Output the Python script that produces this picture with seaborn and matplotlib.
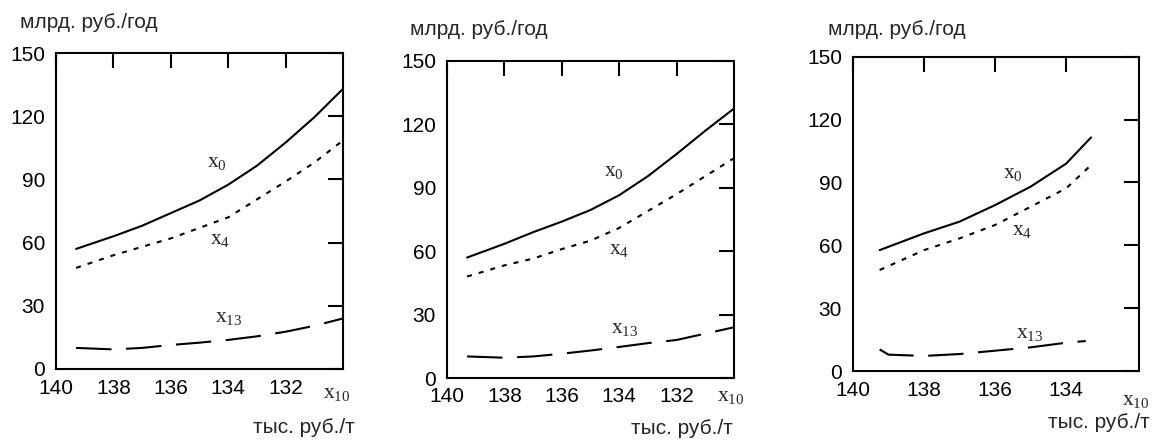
import matplotlib
matplotlib.use("Agg")
import matplotlib.pyplot as plt
from matplotlib import font_manager
import pandas as pd
import seaborn as sns

# values
x_p1 = [139.3, 138, 137, 136, 135, 134, 133, 132, 131, 130]
x0_p1 = [57, 63, 68, 74, 80, 87.5, 96.5, 107.5, 119.5, 133]
x4_p1 = [48, 54, 58, 62, 67, 72, 80.5, 89, 98, 108.5]
x13_p1 = [10, 9.3, 10, 11.4, 12.5, 13.8, 15.5, 17.7, 20.5, 24]

x_p2 = [139.3, 138, 137, 136, 135, 134, 133, 132, 131, 130]
x0_p2 = [57, 63.5, 69, 74, 79.5, 86.5, 95.5, 106, 117, 127.5]
x4_p2 = [48, 53.3, 56.5, 61, 65, 71, 79, 87, 95.5, 104]
x13_p2 = [10.2, 9.6, 10.2, 11.5, 13, 14.7, 16.5, 18, 21, 24]

x_p3 = [139.25, 138, 137, 136, 135, 134, 133.3]
x0_p3 = [57.7, 65.7, 71.3, 79.2, 88, 99, 111.5]
x4_p3 = [48.2, 57.7, 63.3, 69.7, 78.4, 87.2, 98.3]
x13x_p3 = [139.25, 139.0, 138, 137, 136, 135, 134, 133.45]
x13_p3 = [10.3, 7.8, 7.2, 8.1, 9.7, 11.3, 13.5, 14.3]

y_ticks = [0, 30, 60, 90, 120, 150]
ylabel_text = "млрд. руб./год"
xlabel_text = "тыс. руб./т"


def make_df(xa, y0, y4, x13x, y13):
    rows = []
    for x, y in zip(xa, y0):
        rows.append(("x0", x, y))
    for x, y in zip(xa, y4):
        rows.append(("x4", x, y))
    for x, y in zip(x13x, y13):
        rows.append(("x13", x, y))
    return pd.DataFrame(rows, columns=["curve", "price", "value"])


panels = [
    dict(df=make_df(x_p1, x0_p1, x4_p1, x_p1, x13_p1),
         pos=[0.0486, 0.1614, 0.2489, 0.7181], xlim=(140, 130),
         xticks=[140, 138, 136, 134, 132], pad=7,
         lab=[(134.4, 98.7), (134.3, 62), (134.0, 24.7)],
         ylab=(-0.125, 1.079), xlab=(1.042, -0.203), x10=(0.979, -0.092)),
    dict(df=make_df(x_p2, x0_p2, x4_p2, x_p2, x13_p2),
         pos=[0.3877, 0.1409, 0.2489, 0.7205], xlim=(140, 130),
         xticks=[140, 138, 136, 134, 132], pad=6.5,
         lab=[(134.2, 98.4), (134.0, 61.5), (133.8, 24.1)],
         ylab=(-0.129, 1.082), xlab=(0.997, -0.178), x10=(0.99, -0.073)),
    dict(df=make_df(x_p3, x0_p3, x4_p3, x13x_p3, x13_p3),
         pos=[0.7398, 0.1568, 0.2481, 0.7143], xlim=(140, 131.95),
         xticks=[140, 138, 136, 134], pad=7,
         lab=[(135.5, 94.6), (135.24, 67.4), (135.04, 18.6)],
         ylab=(-0.087, 1.07), xlab=(1.038, -0.18), x10=(0.99, -0.108)),
]

sns.set_style("white")
names = {f.name for f in font_manager.fontManager.ttflist}
tick_font = "Liberation Sans Narrow" if "Liberation Sans Narrow" in names else "Liberation Sans"
plt.rcParams["font.family"] = ["Liberation Sans", "DejaVu Sans"]
plt.rcParams["mathtext.fontset"] = "custom"
plt.rcParams["mathtext.rm"] = "Liberation Serif"
plt.rcParams["mathtext.it"] = "Liberation Serif"

fig = plt.figure(figsize=(11.53, 4.4), dpi=100)
dash_map = {"x0": "", "x4": (2.4, 3.4), "x13": (17, 7)}
curve_names = ["$\\mathrm{x_{0}}$", "$\\mathrm{x_{4}}$", "$\\mathrm{x_{13}}$"]

for p in panels:
    ax = fig.add_axes(p["pos"])
    sns.lineplot(data=p["df"], x="price", y="value", style="curve",
                 dashes=dash_map, color="black", linewidth=1.5,
                 sort=False, legend=False, ax=ax)
    ax.set_xlim(*p["xlim"])
    ax.set_ylim(0, 150)
    ax.set_xticks(p["xticks"])
    ax.set_yticks(y_ticks)
    ax.set_xlabel("")
    ax.set_ylabel("")
    for s in ax.spines.values():
        s.set_linewidth(1.5)
        s.set_color("black")
    ax.tick_params(direction="in", length=11, width=1.5, top=True, right=True,
                   labelsize=15, colors="black")
    ax.tick_params(axis="x", pad=p["pad"])
    ax.tick_params(axis="y", pad=8)
    for t in ax.get_xticklabels() + ax.get_yticklabels():
        t.set_fontfamily(tick_font)

    for name, (tx, ty) in zip(curve_names, p["lab"]):
        ax.text(tx, ty, name, fontsize=15.5, ha="center", va="center")

    ax.text(p["ylab"][0], p["ylab"][1], ylabel_text, transform=ax.transAxes,
            fontsize=15, ha="left", va="baseline")
    ax.text(p["xlab"][0], p["xlab"][1], xlabel_text, transform=ax.transAxes,
            fontsize=15, ha="right", va="baseline")
    ax.text(p["x10"][0], p["x10"][1], "$\\mathrm{x_{10}}$", transform=ax.transAxes,
            fontsize=15.5, ha="center", va="baseline")

fig.savefig("out.png", dpi=100)
